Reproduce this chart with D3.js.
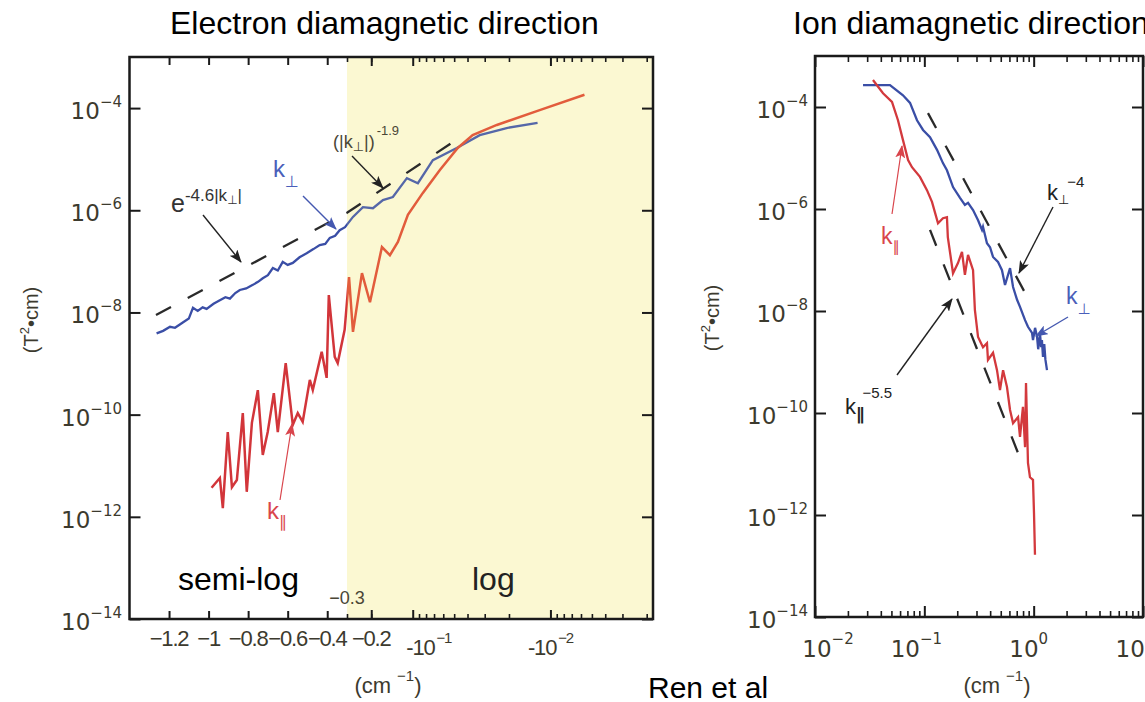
<!DOCTYPE html>
<html>
<head>
<meta charset="utf-8">
<title>Ren et al - electron / ion diamagnetic direction spectra</title>
<script src="https://d3js.org/d3.v7.min.js"></script>
<style>
  body { margin: 0; background: #fff; }
  text { font-family: "Liberation Sans", Arial, sans-serif; }
  .tk { font-family: "DejaVu Sans", sans-serif; fill: #3c3a2e; }
  .tkx { font-family: "Liberation Sans", Arial, sans-serif; fill: #3c3a2e; letter-spacing: -1.2px; }
  .sym { font-family: "DejaVu Sans", sans-serif; }
</style>
</head>
<body>
<svg id="chart" width="1145" height="702"></svg>
<script>
// ---- values: [k (cm^-1), log10 power (T^2 cm)] ----
// electron side, k is negative
var eBlue = [[-1.263,-8.41],[-1.23,-8.36],[-1.195,-8.28],[-1.17,-8.30],[-1.136,-8.21],[-1.10,-8.12],
  [-1.079,-7.91],[-1.055,-7.97],[-1.03,-7.90],[-1.01,-7.93],[-0.975,-7.83],[-0.943,-7.76],[-0.915,-7.70],
  [-0.892,-7.73],[-0.865,-7.62],[-0.842,-7.56],[-0.81,-7.53],[-0.776,-7.46],[-0.75,-7.40],[-0.726,-7.33],
  [-0.70,-7.27],[-0.675,-7.13],[-0.65,-7.18],[-0.625,-7.01],[-0.60,-7.07],[-0.574,-7.03],[-0.54,-6.92],
  [-0.504,-6.84],[-0.47,-6.76],[-0.438,-6.68],[-0.41,-6.66],[-0.387,-6.54],[-0.36,-6.50],[-0.337,-6.39],
  [-0.31,-6.33],[-0.2715,-6.13],[-0.2299,-5.94],[-0.1944,-5.96],[-0.1645,-5.80],[-0.1393,-5.74],
  [-0.1102,-5.37],[-0.0917,-5.47],[-0.0714,-5.02],[-0.0479,-4.78],[-0.0326,-4.53],[-0.0208,-4.39],
  [-0.0124,-4.29]];
var eRed = [[-0.985,-11.43],[-0.943,-11.24],[-0.928,-11.83],[-0.903,-10.34],[-0.882,-11.42],[-0.857,-11.28],
  [-0.827,-9.97],[-0.807,-11.51],[-0.781,-10.16],[-0.751,-9.52],[-0.726,-10.79],[-0.701,-10.34],[-0.670,-9.58],
  [-0.650,-10.34],[-0.610,-8.99],[-0.574,-10.20],[-0.549,-9.97],[-0.524,-10.14],[-0.488,-9.32],[-0.473,-9.52],
  [-0.428,-8.77],[-0.403,-9.28],[-0.392,-7.66],[-0.362,-8.87],[-0.347,-8.99],[-0.312,-8.34],[-0.290,-7.31],
  [-0.2715,-8.38],[-0.2336,-7.23],[-0.2043,-7.80],[-0.1673,-6.72],[-0.1464,-6.88],[-0.1281,-6.62],
  [-0.1084,-6.09],[-0.0844,-5.66],[-0.0635,-5.21],[-0.0471,-4.78],[-0.0367,-4.53],[-0.0245,-4.33],
  [-0.01197,-4.04],[-0.00566,-3.74]];
// fit e^{-4.6|k|} then (|k|)^-1.9
var eFit = [[-1.266,-8.05],[-0.3,-6.05],[-0.0495,-4.64]];

// ion side
var iBlue = [[0.0275,-3.57],[0.0485,-3.57],[0.0638,-3.77],[0.0740,-3.92],[0.0857,-4.26],[0.0973,-4.45],
  [0.1127,-4.59],[0.1306,-4.84],[0.148,-5.10],[0.161,-5.24],[0.183,-5.57],[0.212,-5.78],[0.235,-5.92],
  [0.251,-5.88],[0.279,-6.02],[0.310,-6.22],[0.337,-6.41],[0.344,-6.35],[0.374,-6.67],[0.399,-6.75],
  [0.425,-6.94],[0.472,-7.04],[0.513,-7.20],[0.547,-7.49],[0.608,-7.16],[0.648,-7.53],[0.705,-7.78],
  [0.750,-7.92],[0.834,-8.18],[0.887,-8.31],[0.966,-8.43],[0.986,-8.57],[1.03,-8.33],[1.074,-8.51],
  [1.10,-8.75],[1.143,-8.45],[1.17,-8.71],[1.19,-8.57],[1.217,-8.90],[1.25,-8.65],[1.28,-8.95],[1.324,-9.16]];
var iRed = [[0.0339,-3.47],[0.0419,-3.73],[0.0506,-3.90],[0.0574,-4.26],[0.0638,-4.65],[0.0710,-5.04],
  [0.0771,-5.18],[0.0912,-5.37],[0.1057,-5.63],[0.1175,-5.86],[0.1334,-6.28],[0.148,-6.18],[0.161,-6.16],
  [0.164,-6.55],[0.183,-7.26],[0.203,-7.06],[0.221,-6.84],[0.235,-7.29],[0.251,-6.90],[0.279,-7.20],
  [0.290,-7.98],[0.310,-8.51],[0.344,-8.71],[0.374,-8.63],[0.382,-8.96],[0.425,-8.82],[0.462,-9.16],
  [0.492,-9.55],[0.525,-9.16],[0.570,-9.49],[0.608,-9.94],[0.648,-10.20],[0.720,-10.08],[0.750,-10.47],
  [0.798,-9.88],[0.834,-10.67],[0.851,-9.41],[0.887,-10.98],[0.925,-11.26],[0.986,-11.31],[1.007,-11.96],
  [1.028,-12.78]];
var iPerpFit = [[0.108,-4.12],[0.887,-7.75]];   // k_perp^-4
var iParFit = [[0.1127,-6.41],[0.782,-10.98]];  // k_par^-5.5

// ticks
var yTickExp = [-4,-6,-8,-10,-12,-14];
var eLinTicks = [-1.2,-1,-0.8,-0.6,-0.4];
var eTickVals = [-1.2,-1,-0.8,-0.6,-0.4,-0.2];
var eTickText = ["\u22121.2","\u22121","\u22120.8","\u22120.6","\u22120.4","\u22120.2"];
var eLogMajor = [0.1,0.01];
var eLogMinor = [0.3,0.2,0.09,0.08,0.07,0.06,0.05,0.04,0.03,0.02,0.009,0.008,0.007,0.006,0.005,0.004,0.003,0.002];
var eLogLabelK = [-0.1,-0.01];
var eLogLabelSup = ["\u22121","\u22122"];
var iMajor = [0.01,0.1,1,10];
var iMajorSup = ["\u22122","\u22121","0","1"];

var svg = d3.select("#chart");
var defs = svg.append("defs");

// ---- scales ----
var xLin = d3.scaleLinear().domain([-1.4,-0.3]).range([129.5,347]);
var xLog = d3.scaleLog().domain([0.3,0.0018]).range([347,653]);
function xE(k) { return k <= -0.3 ? xLin(k) : xLog(-k); }
var yE = d3.scaleLog().domain([1e-14,1e-3]).range([619,57]);

var xI = d3.scaleLog().domain([1e-2,1e1]).range([815,1143]);
var yI = d3.scaleLog().domain([1e-14,1e-3]).range([617,56]);

var lineE = d3.line().x(function(d){ return xE(d[0]); }).y(function(d){ return yE(Math.pow(10,d[1])); });
var lineI = d3.line().x(function(d){ return xI(d[0]); }).y(function(d){ return yI(Math.pow(10,d[1])); });

// arrow heads
function marker(id, col) {
  defs.append("marker").attr("id", id).attr("markerUnits","userSpaceOnUse")
    .attr("markerWidth",13).attr("markerHeight",10).attr("refX",12).attr("refY",5).attr("orient","auto")
    .append("path").attr("d","M0,0 L13,5 L0,10 L3,5 Z").attr("fill", col);
}
marker("ahk","#222");
marker("ahb","#4458b0");
marker("ahr","#d9454c");

// colour change of the lines over the yellow part
function grad(id, c1, c2) {
  var f = (xLin(-0.3) - 129.5) / (653 - 129.5);
  var g = defs.append("linearGradient").attr("id", id).attr("gradientUnits","userSpaceOnUse")
    .attr("x1",129.5).attr("x2",653).attr("y1",0).attr("y2",0);
  g.append("stop").attr("offset",f).attr("stop-color",c1);
  g.append("stop").attr("offset",f).attr("stop-color",c2);
}
grad("gRed","#d2353a","#e25c3c");
grad("gBlue","#3a4ea6","#5567a8");

// ---- titles ----
svg.append("text").attr("x",170).attr("y",34).attr("font-size",32).text("Electron diamagnetic direction");
svg.append("text").attr("x",793).attr("y",34).attr("font-size",32).text("Ion diamagnetic direction");

// ---- left panel ----
svg.append("rect").attr("x",347).attr("y",57).attr("width",653-347).attr("height",619-57).attr("fill","#fbf8d2");

function tickAxis(axis, tx, ty, w) {
  var g = svg.append("g").attr("transform","translate("+tx+","+ty+")").call(axis);
  g.select(".domain").remove();
  g.selectAll("line").attr("stroke","#1a1a1a").attr("stroke-width", w || 2);
}
[[d3.axisBottom, 619],[d3.axisTop, 57]].forEach(function(a){
  tickAxis(a[0](xLin).tickValues(eLinTicks).tickSize(-8).tickFormat(""), 0, a[1]);
  tickAxis(a[0](xLog).tickValues(eLogMinor).tickSize(-5).tickFormat(""), 0, a[1], 1.6);
  tickAxis(a[0](xLog).tickValues(eLogMajor.concat([0.2])).tickSize(-9).tickFormat(""), 0, a[1]);
});
tickAxis(d3.axisLeft(yE).tickValues(yTickExp.map(function(e){return Math.pow(10,e);})).tickSize(-11).tickFormat(""), 129.5, 0);
tickAxis(d3.axisRight(yE).tickValues(yTickExp.map(function(e){return Math.pow(10,e);})).tickSize(-11).tickFormat(""), 653, 0);
svg.append("rect").attr("x",129.5).attr("y",57).attr("width",653-129.5).attr("height",619-57)
  .attr("fill","none").attr("stroke","#1a1a1a").attr("stroke-width",2.5);

// data lines
svg.append("path").attr("d", lineE(eFit)).attr("fill","none").attr("stroke","#2a2a2a")
  .attr("stroke-width",2.3).attr("stroke-dasharray","17,19");
svg.append("path").attr("d", lineE(eBlue)).attr("fill","none").attr("stroke","url(#gBlue)").attr("stroke-width",2.3);
svg.append("path").attr("d", lineE(eRed)).attr("fill","none").attr("stroke","url(#gRed)").attr("stroke-width",2.5);

// y tick labels
function yLabels(scale, xr) {
  yTickExp.forEach(function(e){
    var t = svg.append("text").attr("class","tk").attr("x",xr).attr("y",scale(Math.pow(10,e))+11)
      .attr("text-anchor","end").attr("font-size",23);
    t.append("tspan").text("10");
    t.append("tspan").attr("font-size",15).attr("dy",-12).text("\u2212" + Math.abs(e));
  });
}
yLabels(yE, 122);

// x tick labels
eTickVals.forEach(function(v,i){
  svg.append("text").attr("class","tkx").attr("x",xE(v)).attr("y",646).attr("text-anchor","middle")
    .attr("font-size",22).text(eTickText[i]);
});
var eLogOff = [16, 0];
eLogLabelK.forEach(function(v,i){
  var t = svg.append("text").attr("class","tkx").attr("x",xE(v)+eLogOff[i]).attr("y",655)
    .attr("text-anchor","middle").attr("font-size",22);
  t.append("tspan").text("-10");
  t.append("tspan").attr("font-size",15).attr("dy",-12).attr("dx",2).text(eLogLabelSup[i]);
});
svg.append("text").attr("x",xLin(-0.3)).attr("y",604).attr("text-anchor","middle")
  .attr("font-size",18).attr("fill","#4a4636").text("\u22120.3");

// axis titles
function xTitle(cx) {
  var t = svg.append("text").attr("x",cx).attr("y",693).attr("text-anchor","middle").attr("font-size",22).attr("fill","#3c3a2e");
  t.append("tspan").text("(cm");
  t.append("tspan").attr("font-size",15).attr("dy",-12).attr("dx",6).text("\u22121");
  t.append("tspan").attr("dy",12).text(")");
}
function yTitle(cx, cy) {
  var t = svg.append("text").attr("transform","translate("+cx+","+cy+") rotate(-90)")
    .attr("text-anchor","middle").attr("font-size",20).attr("fill","#3c3a2e");
  t.append("tspan").text("(T");
  t.append("tspan").attr("font-size",13).attr("dy",-9).text("2");
  t.append("tspan").attr("dy",9).text("\u2022cm)");
}
xTitle(388);
yTitle(38, 320);

svg.append("text").attr("x",178).attr("y",590).attr("font-size",32).text("semi-log");
svg.append("text").attr("x",472).attr("y",590).attr("font-size",32).attr("fill","#222").text("log");
svg.append("text").attr("x",648).attr("y",698).attr("font-size",30).text("Ren et al");

// annotations, left
function arrow(x1,y1,x2,y2,col,m,w) {
  svg.append("line").attr("x1",x1).attr("y1",y1).attr("x2",x2).attr("y2",y2)
    .attr("stroke",col).attr("stroke-width",w || 1.4).attr("marker-end","url(#"+m+")");
}
var t1 = svg.append("text").attr("x",171).attr("y",212).attr("font-size",25).attr("fill","#333");
t1.append("tspan").text("e");
t1.append("tspan").attr("font-size",17).attr("dy",-11).text("-4.6|k");
t1.append("tspan").attr("class","sym").attr("font-size",12).attr("dy",3).text("\u22a5");
t1.append("tspan").attr("font-size",17).attr("dy",-3).text("|");
arrow(203,215,241,262,"#222","ahk");

var t2 = svg.append("text").attr("x",333).attr("y",148).attr("font-size",18).attr("fill","#4a4636");
t2.append("tspan").text("(|k");
t2.append("tspan").attr("class","sym").attr("font-size",13).attr("dy",3).text("\u22a5");
t2.append("tspan").attr("dy",-3).text("|)");
t2.append("tspan").attr("font-size",13).attr("dy",-13).attr("dx",2).text("-1.9");
arrow(352,156,383,188,"#222","ahk");

var t3 = svg.append("text").attr("x",273).attr("y",177).attr("font-size",24).attr("fill","#4a5fba");
t3.append("tspan").text("k");
t3.append("tspan").attr("class","sym").attr("font-size",16).attr("dy",10).text("\u22a5");
arrow(303,196,336,229,"#4458b0","ahb");

var t4 = svg.append("text").attr("x",267).attr("y",519).attr("font-size",24).attr("fill","#d9454c");
t4.append("tspan").text("k");
t4.append("tspan").attr("class","sym").attr("font-size",16).attr("dy",8).text("\u2225");
arrow(280,500,292,424,"#d9454c","ahr",1.2);

// ---- right panel ----
var iMinor = [];
iMajor.slice(0,3).forEach(function(m){ d3.range(2,10).forEach(function(j){ iMinor.push(m*j); }); });
[[d3.axisBottom, 617],[d3.axisTop, 56]].forEach(function(a){
  tickAxis(a[0](xI).tickValues(iMinor).tickSize(-6).tickFormat(""), 0, a[1], 1.6);
  tickAxis(a[0](xI).tickValues(iMajor).tickSize(-11).tickFormat(""), 0, a[1]);
});
tickAxis(d3.axisLeft(yI).tickValues(yTickExp.map(function(e){return Math.pow(10,e);})).tickSize(-11).tickFormat(""), 815, 0);
tickAxis(d3.axisRight(yI).tickValues(yTickExp.map(function(e){return Math.pow(10,e);})).tickSize(-11).tickFormat(""), 1143, 0);
svg.append("rect").attr("x",815).attr("y",56).attr("width",1143-815).attr("height",617-56)
  .attr("fill","none").attr("stroke","#1a1a1a").attr("stroke-width",2.5);

svg.append("path").attr("d", lineI(iPerpFit)).attr("fill","none").attr("stroke","#2a2a2a")
  .attr("stroke-width",2.3).attr("stroke-dasharray","17,20");
svg.append("path").attr("d", lineI(iParFit)).attr("fill","none").attr("stroke","#2a2a2a")
  .attr("stroke-width",2.3).attr("stroke-dasharray","17,20");
svg.append("path").attr("d", lineI(iBlue)).attr("fill","none").attr("stroke","#3a4ea6").attr("stroke-width",2.3);
svg.append("path").attr("d", lineI(iRed)).attr("fill","none").attr("stroke","#d3393d").attr("stroke-width",2.3);

yLabels(yI, 808);
var iOff = [13,-8,-5,-8];
iMajor.forEach(function(v,i){
  var t = svg.append("text").attr("class","tk").attr("x",xI(v)+iOff[i]).attr("y",657)
    .attr("text-anchor","middle").attr("font-size",23);
  t.append("tspan").text("10");
  t.append("tspan").attr("font-size",15).attr("dy",-13).text(iMajorSup[i]);
});
xTitle(997);
yTitle(719, 318);

// annotations, right
var r1 = svg.append("text").attr("x",1047).attr("y",200).attr("font-size",22).attr("fill","#222");
r1.append("tspan").text("k");
r1.append("tspan").attr("class","sym").attr("font-size",13).attr("dy",4).text("\u22a5");
r1.append("tspan").attr("font-size",15).attr("dy",-17).attr("dx",-2).text("\u22124");
arrow(1053,207,1019,273,"#222","ahk");

var r2 = svg.append("text").attr("x",1066).attr("y",304).attr("font-size",23).attr("fill","#4a5fba");
r2.append("tspan").text("k");
r2.append("tspan").attr("class","sym").attr("font-size",15).attr("dy",10).text("\u22a5");
arrow(1068,317,1036,336,"#4458b0","ahb");

var r3 = svg.append("text").attr("x",845).attr("y",414).attr("font-size",22).attr("fill","#222");
r3.append("tspan").text("k");
r3.append("tspan").attr("class","sym").attr("font-size",17).attr("font-weight","bold").attr("dy",6).text("\u2225");
r3.append("tspan").attr("font-size",15).attr("dy",-22).attr("dx",-2).text("\u22125.5");
arrow(897,375,952,299,"#222","ahk");

var r4 = svg.append("text").attr("x",881).attr("y",244).attr("font-size",23).attr("fill","#d9454c");
r4.append("tspan").text("k");
r4.append("tspan").attr("class","sym").attr("font-size",15).attr("dy",8).text("\u2225");
arrow(892,214,902,146,"#d9454c","ahr",1.2);
</script>
</body>
</html>
